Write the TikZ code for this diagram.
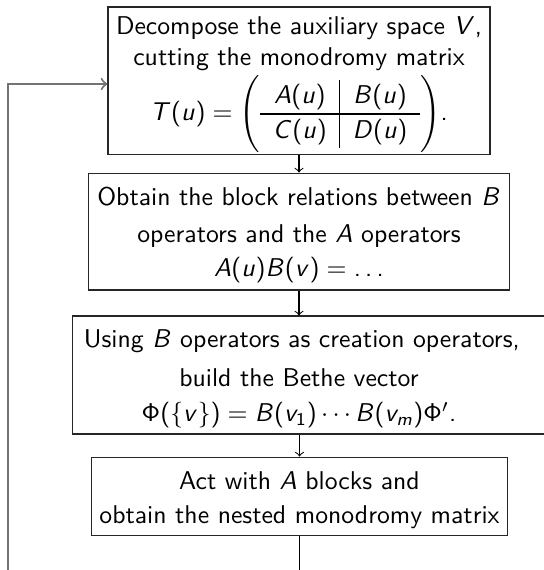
\documentclass[tikz,border=0pt]{standalone}
\DeclareSymbolFont{operators}{OT1}{cmss}{m}{n}
\DeclareSymbolFont{letters}{OT1}{cmss}{m}{sl}
\DeclareMathSymbol{\sdot}{\mathpunct}{operators}{"2E}
\newcommand{\sdots}{\mathinner{\sdot\sdot\sdot}}
\newcommand{\topstrut}{\rule{0pt}{10pt}}
\begin{document}
\begin{tikzpicture}[x=0.389pt,y=-0.389pt,
  box/.style={draw=black!85, line width=0.4pt, align=center, font=\sffamily, inner sep=0pt},
  txt/.style={align=center, font=\sffamily, inner sep=0pt},
  conn/.style={->, line width=0.4pt},
  loopline/.style={->, draw=black!55, line width=0.8pt}]
\useasboundingbox (0,0) rectangle (544,570);
\clip (0,0) rectangle (544,570);
\node[box, minimum width=148.6pt, minimum height=57.2pt] (b1) at (299,80.5)
  {\topstrut Decompose the auxiliary space $V$,\\ cutting the monodromy matrix\\[1pt]
   \renewcommand{\arraystretch}{1.1}%
   $T(u) = \left(\begin{array}{c|c} A(u) & B(u) \\ \hline C(u) & D(u) \end{array}\right)$.};
\node[box, minimum width=163.4pt, minimum height=45.5pt] (b2) at (299,231.5)
  {\topstrut Obtain the block relations between $B$\\[2.4pt] operators and the $A$ operators\\[1.2pt]
   $A(u)B(v) = \sdots$};
\node[draw=black!85, line width=0.4pt, minimum width=185.6pt, minimum height=45.9pt, inner sep=0pt] (b3) at (311.5,375) {};
\node[txt, text width=167.3pt] (t3) at (299,379)
  {\mbox{Using $B$ operators as creation operators,}\\[3.2pt] build the Bethe vector\\[1.6pt]
   \mbox{$\Phi(\{v\}) = B(v_1)\cdots B(v_m)\Phi'$.}};
\node[box, minimum width=162.2pt, minimum height=30.7pt] (b4) at (299.5,496.5)
  {\topstrut Act with $A$ blocks and\\[1.2pt] obtain the nested monodromy matrix};
\coordinate (bot) at (299,580);
\coordinate (lb) at (8,580);
\coordinate (lt) at (8,84);
\draw[conn] (b1.south) -- (b2.north);
\draw[conn] (b2.south) -- (b2.south |- b3.north);
\draw[conn] (b4.north |- b3.south) -- (b4.north);
\draw[line width=0.4pt] (b4.south) -- (b4.south |- bot);
\draw[loopline] (lb) -- (lt) -- (lt -| b1.west);
\end{tikzpicture}
\end{document}
